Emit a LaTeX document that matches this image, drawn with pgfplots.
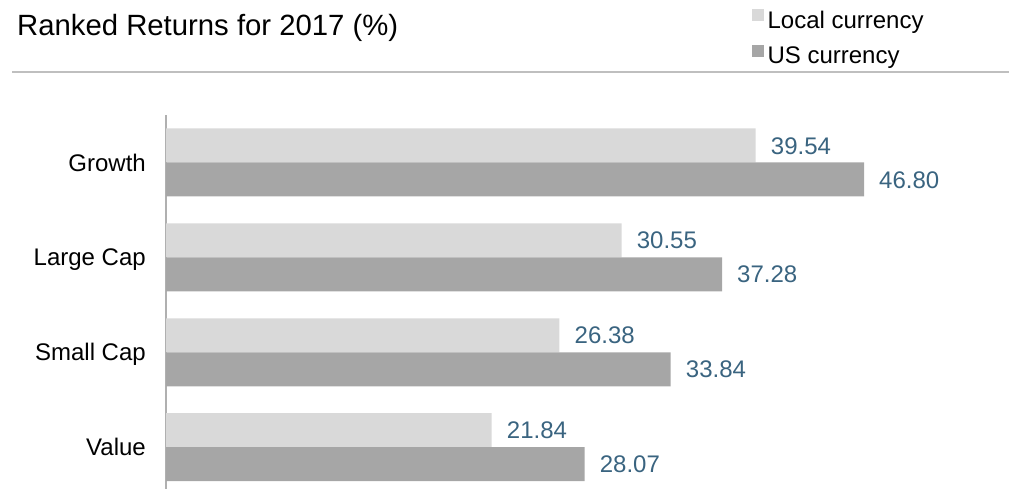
\documentclass[border=0pt]{standalone}
\usepackage{pgfplots}
\pgfplotsset{compat=1.18}
\usepackage{fontspec}
\setmainfont{Liberation Sans}
\definecolor{localc}{RGB}{217,217,217}
\definecolor{usc}{RGB}{166,166,166}
\definecolor{valc}{RGB}{58,100,128}
\definecolor{rulec}{RGB}{191,191,191}
\definecolor{axc}{RGB}{176,176,176}
\begin{document}
\begin{tikzpicture}
\useasboundingbox (0pt,0pt) rectangle (1009pt,489pt);
\node[anchor=base west, inner sep=0pt, font=\fontsize{29.3pt}{33pt}\selectfont] at (17pt,453pt) {Ranked Returns for 2017 (\%)};
\draw[rulec, line width=2pt] (12pt,417.3pt) -- (1009pt,417.3pt);
\begin{axis}[
  at={(166pt,0pt)}, anchor=south west,
  scale only axis, width=843pt, height=374pt,
  xbar, bar width=34pt,
  xmin=0, xmax=56.52, ymin=-0.44, ymax=3.5,
  enlargelimits=false,
  axis x line=none, axis y line*=left,
  y axis line style={draw=axc, line width=1.2pt},
  ytick={0,1,2,3}, yticklabels={Value,Small Cap,Large Cap,Growth},
  major tick length=0pt,
  yticklabel style={font=\fontsize{24pt}{28pt}\selectfont, anchor=base east, inner sep=0pt, xshift=-20pt, yshift=-8.6pt},
  point meta=explicit symbolic,
  nodes near coords,
  every node near coord/.append style={font=\fontsize{24pt}{28pt}\selectfont, text=valc, anchor=base west, inner sep=0pt, xshift=15pt, yshift=-8.6pt},
  legend image code/.code={\fill[#1] (0pt,1pt) rectangle (12pt,13pt);},
  legend style={at={(0.6952,1.2834)}, anchor=north west, draw=none, fill=none, inner sep=0pt, outer sep=0pt, row sep=11.5pt, font=\fontsize{24pt}{28pt}\selectfont, /tikz/every odd column/.style={column sep=3.5pt}, nodes={inner sep=0pt, text height=17pt, text depth=5pt}},
  legend cell align=left,
]
\addplot[fill=localc, draw=none, bar shift=17pt] coordinates {
  (39.54,3) [39.54]
  (30.55,2) [30.55]
  (26.38,1) [26.38]
  (21.84,0) [21.84]
};
\addlegendentry{Local currency}
\addplot[fill=usc, draw=none, bar shift=-17pt] coordinates {
  (46.80,3) [46.80]
  (37.28,2) [37.28]
  (33.84,1) [33.84]
  (28.07,0) [28.07]
};
\addlegendentry{US currency}
\end{axis}
\end{tikzpicture}
\end{document}
